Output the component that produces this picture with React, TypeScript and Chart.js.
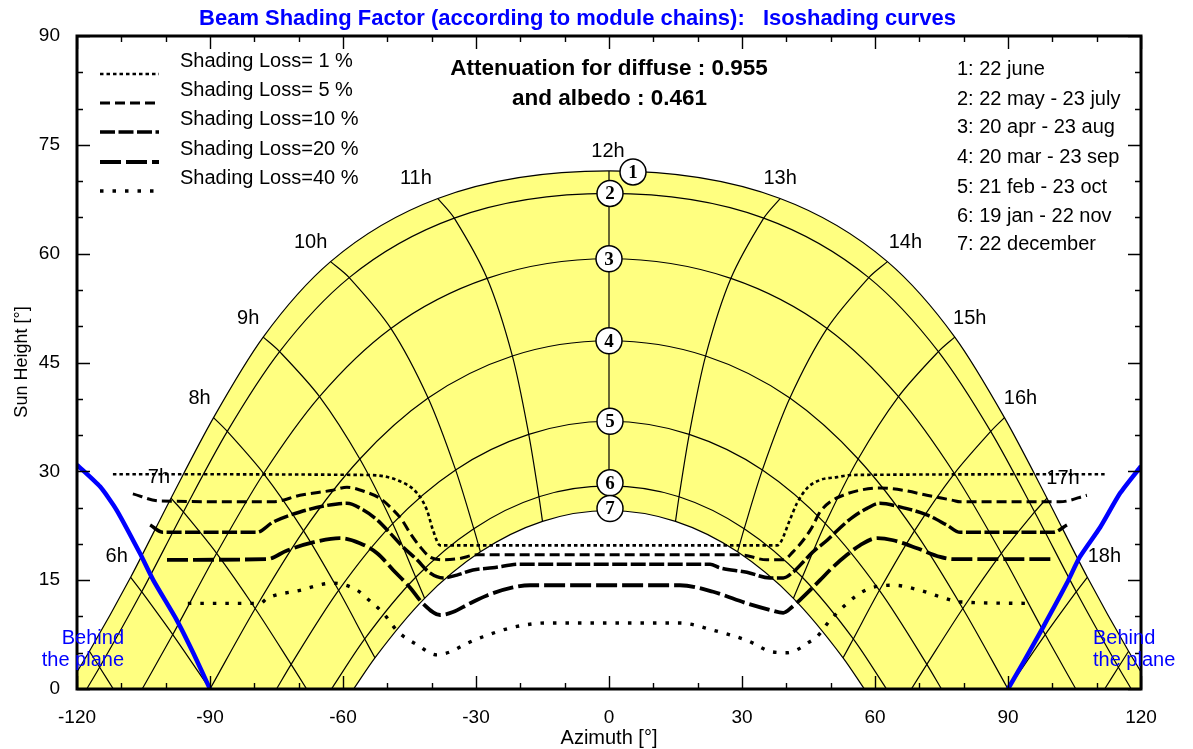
import React, { useEffect, useRef } from 'react';
import { Chart, registerables } from 'chart.js';
Chart.register(...registerables);

const FONT = '"Liberation Sans", Arial, Helvetica, sans-serif';
const SERIF = '"Liberation Serif", "Times New Roman", serif';

// ---------- axes ----------
const X_MIN = -120, X_MAX = 120, X_LABEL_STEP = 30, X_MINOR_STEP = 10;
const Y_MIN = 0, Y_MAX = 90, Y_LABEL_STEP = 15, Y_MINOR_STEP = 5;

// ---------- sun paths (azimuth / height at each solar hour) ----------
const HOURS = [5, 6, 7, 8, 9, 10, 11, 12, 13, 14, 15, 16, 17, 18, 19];
const HOUR_LABELS = ['', '6h', '7h', '8h', '9h', '10h', '11h', '12h', '13h', '14h', '15h', '16h', '17h', '18h', ''];

const JUNE_AZ = [-117.2, -107.9, -98.8, -89.2, -78.0, -62.8, -38.6, 0, 38.6, 62.8, 78.0, 89.2, 98.8, 107.9, 117.2];
const JUNE_EL = [5.2, 15.4, 26.3, 37.4, 48.5, 58.9, 67.6, 71.4, 67.6, 58.9, 48.5, 37.4, 26.3, 15.4, 5.2];
const MAYJUL_AZ = [-114.9, -105.4, -96.0, -86.1, -74.3, -58.6, -34.9, 0, 34.9, 58.6, 74.3, 86.1, 96.0, 105.4, 114.9];
const MAYJUL_EL = [3.0, 13.4, 24.4, 35.5, 46.5, 56.7, 64.9, 68.3, 64.9, 56.7, 46.5, 35.5, 24.4, 13.4, 3.0];
const APRAUG_AZ = [null, -98.4, -88.5, -77.9, -65.3, -49.2, -27.5, 0, 27.5, 49.2, 65.3, 77.9, 88.5, 98.4, null];
const APRAUG_EL = [null, 7.5, 18.7, 29.7, 40.3, 49.7, 56.6, 59.3, 56.6, 49.7, 40.3, 29.7, 18.7, 7.5, null];
const MARSEP_AZ = [null, null, -79.8, -68.9, -56.2, -40.8, -21.8, 0, 21.8, 40.8, 56.2, 68.9, 79.8, null, null];
const MARSEP_EL = [null, null, 11.1, 21.8, 31.7, 40.1, 45.9, 48.0, 45.9, 40.1, 31.7, 21.8, 11.1, null, null];
const FEBOCT_AZ = [null, null, -71.7, -61.0, -48.8, -34.6, -18.1, 0, 18.1, 34.6, 48.8, 61.0, 71.7, null, null];
const FEBOCT_EL = [null, null, 3.4, 13.6, 22.8, 30.2, 35.1, 36.9, 35.1, 30.2, 22.8, 13.6, 3.4, null, null];
const JANNOV_AZ = [null, null, null, -55.1, -43.6, -30.5, -15.8, 0, 15.8, 30.5, 43.6, 55.1, null, null, null];
const JANNOV_EL = [null, null, null, 6.9, 15.4, 22.1, 26.5, 28.0, 26.5, 22.1, 15.4, 6.9, null, null, null];
const DEC_AZ = [null, null, null, -52.8, -41.6, -29.0, -15.0, 0, 15.0, 29.0, 41.6, 52.8, null, null, null];
const DEC_EL = [null, null, null, 4.3, 12.5, 18.9, 23.1, 24.6, 23.1, 18.9, 12.5, 4.3, null, null, null];

// azimuth where each date path meets the horizon (sunset; sunrise is the negative)
const SET_AZ = [122.4, 117.8, 105.3, 90.0, 75.0, 62.6, 57.6];
// azimuth where each hour line meets the horizon
const HOUR_HORIZON_AZ = [-111.8, -90.0, -68.2, null, null, null, null, null, null, null, null, null, 68.2, 90.0, 111.8];

const DATE_LABELS = ['1: 22 june', '2: 22 may - 23 july', '3: 20 apr - 23 aug', '4: 20 mar - 23 sep', '5: 21 feb - 23 oct', '6: 19 jan - 22 nov', '7: 22 december'];
const DATE_NUMBERS = ['1', '2', '3', '4', '5', '6', '7'];

// ---------- "behind the plane" limits ----------
const BEHIND_L_AZ = [-120.0, -114.8, -111.1, -105.8, -102.8, -97.5, -93.8, -90.0];
const BEHIND_L_EL = [30.9, 27.9, 24.7, 18.7, 15.0, 9.5, 5.0, 0];
const BEHIND_R_AZ = [90.0, 93.4, 97.9, 103.3, 106.2, 110.8, 115.3, 120.0];
const BEHIND_R_EL = [0, 3.6, 8.5, 14.6, 18.2, 22.3, 27.0, 30.7];

// ---------- isoshading curves ----------
const LOSS_LABELS = ['Shading Loss= 1 %', 'Shading Loss= 5 %', 'Shading Loss=10 %', 'Shading Loss=20 %', 'Shading Loss=40 %'];
const LOSS1_AZ = [-111.9, -54.6, -47.8, -43.3, -41.1, -39.7, -38.1, 37.9, 38.6, 40.8, 42.4, 44.7, 47.6, 51.4, 55.0, 112.3];
const LOSS1_EL = [29.6, 29.5, 28.8, 27.0, 24.7, 21.9, 19.8, 19.8, 20.1, 23.3, 25.6, 27.7, 28.8, 29.2, 29.5, 29.6];
const LOSS5_AZ = [-107.4, -101.3, -75.8, -69.7, -62.3, -59.1, -54.6, -51.7, -49.4, -46.7, -44.9, -42.6, -40.4, -37.4, -33.6, -29.8, 25.0, 29.6, 35.6, 39.3, 41.5, 43.8, 45.8, 47.6, 49.9, 52.8, 56.6, 61.1, 66.3, 71.7, 77.6, 79.2, 101.7, 107.8];
const LOSS5_EL = [26.9, 25.9, 25.8, 26.7, 27.4, 27.8, 27.1, 26.3, 25.1, 23.3, 21.5, 19.6, 18.2, 17.8, 18.0, 18.5, 18.5, 18.5, 17.8, 17.8, 18.9, 20.5, 22.3, 24.4, 25.8, 26.7, 27.4, 27.7, 27.4, 26.7, 26.0, 25.8, 25.8, 26.7];
const LOSS10_AZ = [-103.5, -100.6, -79.4, -75.8, -69.7, -63.6, -59.1, -55.5, -52.3, -49.4, -46.5, -43.3, -40.4, -37.4, -34.3, -30.7, -26.2, -20.1, 22.8, 25.0, 31.1, 36.3, 39.3, 41.5, 43.8, 46.0, 49.2, 52.1, 55.0, 58.2, 61.1, 65.6, 71.7, 76.2, 79.2, 100.2, 103.3];
const LOSS10_EL = [22.6, 21.6, 21.6, 23.0, 24.4, 25.3, 25.6, 24.7, 23.3, 21.5, 19.6, 17.8, 16.0, 15.3, 15.7, 16.4, 16.7, 17.2, 17.2, 16.7, 16.1, 15.3, 15.3, 16.1, 17.5, 18.9, 20.5, 22.2, 23.7, 24.9, 25.6, 25.1, 24.0, 22.6, 21.6, 21.6, 22.6];
const LOSS20_AZ = [-99.7, -77.1, -72.6, -66.8, -60.7, -56.2, -52.3, -48.7, -44.9, -42.0, -38.1, -35.2, -31.4, -27.5, -21.7, -17.8, 16.0, 23.5, 31.1, 36.3, 39.3, 41.3, 43.1, 45.3, 47.6, 50.5, 53.7, 56.6, 60.5, 64.1, 69.5, 74.7, 77.6, 100.2];
const LOSS20_EL = [17.8, 17.9, 19.1, 20.2, 20.8, 20.1, 18.7, 16.4, 14.0, 11.8, 10.2, 10.6, 11.8, 12.9, 14.0, 14.3, 14.3, 13.4, 11.8, 10.9, 10.5, 11.3, 12.3, 13.6, 15.0, 16.8, 18.5, 19.8, 20.8, 20.5, 19.4, 18.2, 17.9, 17.9];
const LOSS40_AZ = [-95.0, -78.7, -77.1, -69.7, -62.3, -56.8, -54.6, -51.0, -47.6, -43.3, -38.8, -35.9, -32.0, -28.4, -21.7, -14.0, 16.0, 23.5, 31.1, 37.0, 40.2, 42.4, 44.7, 46.9, 49.9, 53.7, 55.9, 58.9, 64.1, 70.2, 74.7, 79.2, 95.0];
const LOSS40_EL = [11.8, 11.8, 12.5, 13.6, 14.6, 13.6, 12.5, 10.5, 7.9, 6.1, 4.7, 5.1, 6.3, 7.2, 8.5, 9.1, 9.1, 8.1, 6.7, 5.1, 5.0, 5.4, 6.3, 7.2, 9.5, 11.8, 12.9, 13.9, 14.3, 13.6, 12.7, 12.0, 11.8];

const TITLE = 'Beam Shading Factor (according to module chains):   Isoshading curves';
const INFO_LINES = ['Attenuation for diffuse : 0.955', 'and albedo : 0.461'];
const X_TITLE = 'Azimuth [°]';
const Y_TITLE = 'Sun Height [°]';
const BEHIND_TEXT = ['Behind', 'the plane'];

// ---------- styles / layout ----------
const YELLOW = '#ffff80';
const BLUE = '#0000ff';
const LOSS_STYLES = [
  { dash: [3.5, 3], width: 2.6 },
  { dash: [10, 5], width: 3 },
  { dash: [15, 3.5], width: 3.5 },
  { dash: [21, 5], width: 3.8 },
  { dash: [3.5, 9], width: 3.4 },
];
const HOUR_LABEL_OFFSETS = [
  [0, 0], [-14, -21], [-12, -21], [-14, -19], [-15, -19], [-20, -19], [-22, -20], [-1, -19],
  [0, -20], [18, -19], [15, -19], [16, -19], [16, -20], [17, -21], [0, 0],
];
const CIRCLE_OFFSETS = [[24, 1], [1, 0], [0, 0], [0, 0], [1, 0], [1, -3], [1, -2]];

const zip = (az: (number | null)[], el: (number | null)[]) =>
  az.map((x, i) => ({ x, y: el[i] })).filter((p) => p.x !== null && p.y !== null) as { x: number; y: number }[];

const DATES_AZ = [JUNE_AZ, MAYJUL_AZ, APRAUG_AZ, MARSEP_AZ, FEBOCT_AZ, JANNOV_AZ, DEC_AZ];
const DATES_EL = [JUNE_EL, MAYJUL_EL, APRAUG_EL, MARSEP_EL, FEBOCT_EL, JANNOV_EL, DEC_EL];

function datePath(d: number) {
  return [{ x: -SET_AZ[d], y: 0 }, ...zip(DATES_AZ[d], DATES_EL[d]), { x: SET_AZ[d], y: 0 }];
}
function hourPath(i: number) {
  const pts: { x: number; y: number }[] = [];
  for (let d = 0; d < DATES_AZ.length; d++) {
    const x = DATES_AZ[d][i], y = DATES_EL[d][i];
    if (x !== null && y !== null) pts.push({ x, y });
  }
  const h = HOUR_HORIZON_AZ[i];
  if (h !== null) pts.push({ x: h, y: 0 });
  return pts;
}

function fitText(ctx: CanvasRenderingContext2D, s: string, cx: number, cy: number, width: number, weight: string, color: string) {
  ctx.font = `${weight} 20px ${FONT}`;
  const w = ctx.measureText(s).width;
  const size = (20 * width) / w;
  ctx.font = `${weight} ${size}px ${FONT}`;
  ctx.fillStyle = color;
  ctx.textAlign = 'center';
  ctx.textBaseline = 'middle';
  ctx.fillText(s, cx, cy);
}
function txt(ctx: CanvasRenderingContext2D, s: string, x: number, y: number, font: string, color = '#000', align: CanvasTextAlign = 'center') {
  ctx.font = font;
  ctx.fillStyle = color;
  ctx.textAlign = align;
  ctx.textBaseline = 'middle';
  ctx.fillText(s, x, y);
}

const decorPlugin = {
  id: 'decor',
  afterDatasetsDraw(chart: any) {
    const ctx: CanvasRenderingContext2D = chart.ctx;
    const xs = chart.scales.x, ys = chart.scales.y;
    const { left, right, top, bottom } = chart.chartArea;
    ctx.save();

    // frame + ticks
    ctx.strokeStyle = '#000';
    ctx.lineWidth = 1.4;
    ctx.setLineDash([]);
    ctx.beginPath();
    for (let v = X_MIN; v <= X_MAX; v += X_MINOR_STEP) {
      const px = Math.round(xs.getPixelForValue(v)) + 0.5;
      const L = v % X_LABEL_STEP === 0 ? 13 : 6;
      ctx.moveTo(px, bottom); ctx.lineTo(px, bottom - L);
      ctx.moveTo(px, top); ctx.lineTo(px, top + L);
    }
    for (let v = Y_MIN; v <= Y_MAX; v += Y_MINOR_STEP) {
      const py = Math.round(ys.getPixelForValue(v)) + 0.5;
      const L = v % Y_LABEL_STEP === 0 ? 13 : 6;
      ctx.moveTo(left, py); ctx.lineTo(left + L, py);
      ctx.moveTo(right, py); ctx.lineTo(right - L, py);
    }
    ctx.stroke();
    ctx.lineWidth = 3;
    ctx.strokeRect(left, top, right - left, bottom - top);

    // title
    fitText(ctx, TITLE, 577.5, 19, 757, 'bold', BLUE);
    // info
    fitText(ctx, INFO_LINES[0], 609, 69, 318, 'bold', '#000');
    fitText(ctx, INFO_LINES[1], 609.5, 99, 195, 'bold', '#000');

    // axis titles
    txt(ctx, X_TITLE, 609, 738, `20px ${FONT}`);
    ctx.save();
    ctx.translate(22, 362);
    ctx.rotate(-Math.PI / 2);
    txt(ctx, Y_TITLE, 0, 0, `18px ${FONT}`);
    ctx.restore();

    // loss legend
    const legTextY = [61, 90, 119, 149, 178];
    LOSS_LABELS.forEach((s, i) => {
      txt(ctx, s, 180, legTextY[i], `20px ${FONT}`, '#000', 'left');
      ctx.setLineDash(LOSS_STYLES[i].dash);
      ctx.lineWidth = LOSS_STYLES[i].width;
      ctx.lineCap = 'butt';
      ctx.beginPath();
      ctx.moveTo(100, legTextY[i] + 13);
      ctx.lineTo(159, legTextY[i] + 13);
      ctx.stroke();
    });
    ctx.setLineDash([]);

    // date legend
    const dateY = [69, 99, 127, 157, 187, 216, 244];
    DATE_LABELS.forEach((s, i) => txt(ctx, s, 957, dateY[i], `20px ${FONT}`, '#000', 'left'));

    // hour labels (anchored to the 22 June point of each hour)
    HOUR_LABELS.forEach((s, i) => {
      if (!s) return;
      const px = xs.getPixelForValue(JUNE_AZ[i] as number) + HOUR_LABEL_OFFSETS[i][0];
      const py = ys.getPixelForValue(JUNE_EL[i] as number) + HOUR_LABEL_OFFSETS[i][1];
      txt(ctx, s, px, py, `20px ${FONT}`);
    });

    // numbered circles at solar noon of each date
    const noon = HOURS.indexOf(12);
    DATE_NUMBERS.forEach((s, d) => {
      const px = xs.getPixelForValue(DATES_AZ[d][noon] as number) + CIRCLE_OFFSETS[d][0];
      const py = ys.getPixelForValue(DATES_EL[d][noon] as number) + CIRCLE_OFFSETS[d][1];
      ctx.beginPath();
      ctx.arc(px, py, 13, 0, Math.PI * 2);
      ctx.fillStyle = '#fff';
      ctx.fill();
      ctx.lineWidth = 1.5;
      ctx.strokeStyle = '#000';
      ctx.stroke();
      txt(ctx, s, px, py + 1, `bold 19px ${SERIF}`);
    });

    // behind the plane
    txt(ctx, BEHIND_TEXT[0], 124, 638, `20px ${FONT}`, BLUE, 'right');
    txt(ctx, BEHIND_TEXT[1], 124, 660, `20px ${FONT}`, BLUE, 'right');
    txt(ctx, BEHIND_TEXT[0], 1093, 638, `20px ${FONT}`, BLUE, 'left');
    txt(ctx, BEHIND_TEXT[1], 1093, 660, `20px ${FONT}`, BLUE, 'left');

    ctx.restore();
  },
};

export default function App() {
  const ref = useRef<HTMLCanvasElement>(null);
  useEffect(() => {
    document.body.style.margin = '0';
    const canvas = ref.current!;
    const base = { pointRadius: 0, pointHoverRadius: 0, borderColor: '#000', borderWidth: 1.2, fill: false };
    const datasets: any[] = [];
    // yellow region: 22 June path filled to horizon
    datasets.push({ ...base, data: datePath(0), fill: 'origin', backgroundColor: YELLOW, cubicInterpolationMode: 'monotone', order: 100 });
    // white region under 22 December path
    datasets.push({ ...base, data: datePath(6), fill: 'origin', backgroundColor: '#ffffff', cubicInterpolationMode: 'monotone', order: 90 });
    for (let d = 1; d < 6; d++) {
      datasets.push({ ...base, data: datePath(d), cubicInterpolationMode: 'monotone', order: 50 });
    }
    HOURS.forEach((h, i) => {
      datasets.push({ ...base, data: hourPath(i), tension: h === 12 ? 0 : 0.3, order: 50 });
    });
    datasets.push({ ...base, data: zip(BEHIND_L_AZ, BEHIND_L_EL), borderColor: BLUE, borderWidth: 4.5, tension: 0.2, order: 40 });
    datasets.push({ ...base, data: zip(BEHIND_R_AZ, BEHIND_R_EL), borderColor: BLUE, borderWidth: 4.5, tension: 0.2, order: 40 });
    const losses = [[LOSS1_AZ, LOSS1_EL], [LOSS5_AZ, LOSS5_EL], [LOSS10_AZ, LOSS10_EL], [LOSS20_AZ, LOSS20_EL], [LOSS40_AZ, LOSS40_EL]];
    losses.forEach(([az, el], i) => {
      datasets.push({
        ...base,
        data: zip(az, el),
        borderWidth: LOSS_STYLES[i].width,
        borderDash: LOSS_STYLES[i].dash,
        borderCapStyle: 'butt',
        cubicInterpolationMode: 'monotone',
        order: 10,
      });
    });

    const chart = new Chart(canvas, {
      type: 'line',
      data: { datasets },
      options: {
        animation: false,
        responsive: false,
        devicePixelRatio: 1,
        parsing: false,
        normalized: true,
        layout: { padding: { left: 0, top: 36, right: 52, bottom: 0 } },
        plugins: { legend: { display: false }, tooltip: { enabled: false }, title: { display: false } },
        events: [],
        scales: {
          x: {
            type: 'linear',
            min: X_MIN,
            max: X_MAX,
            grid: { display: false },
            border: { display: false },
            ticks: { stepSize: X_LABEL_STEP, color: '#000', padding: 9, font: { family: FONT, size: 19 } },
            afterFit: (s: any) => { s.height = 60; },
          },
          y: {
            type: 'linear',
            min: Y_MIN,
            max: Y_MAX,
            grid: { display: false },
            border: { display: false },
            ticks: { stepSize: Y_LABEL_STEP, color: '#000', padding: 9, font: { family: FONT, size: 19 } },
            afterFit: (s: any) => { s.width = 77; },
          },
        },
      } as any,
      plugins: [decorPlugin],
    });
    return () => chart.destroy();
  }, []);
  return (
    <div style={{ width: 1193, height: 749, background: '#fff' }}>
      <canvas ref={ref} width={1193} height={749} />
    </div>
  );
}
